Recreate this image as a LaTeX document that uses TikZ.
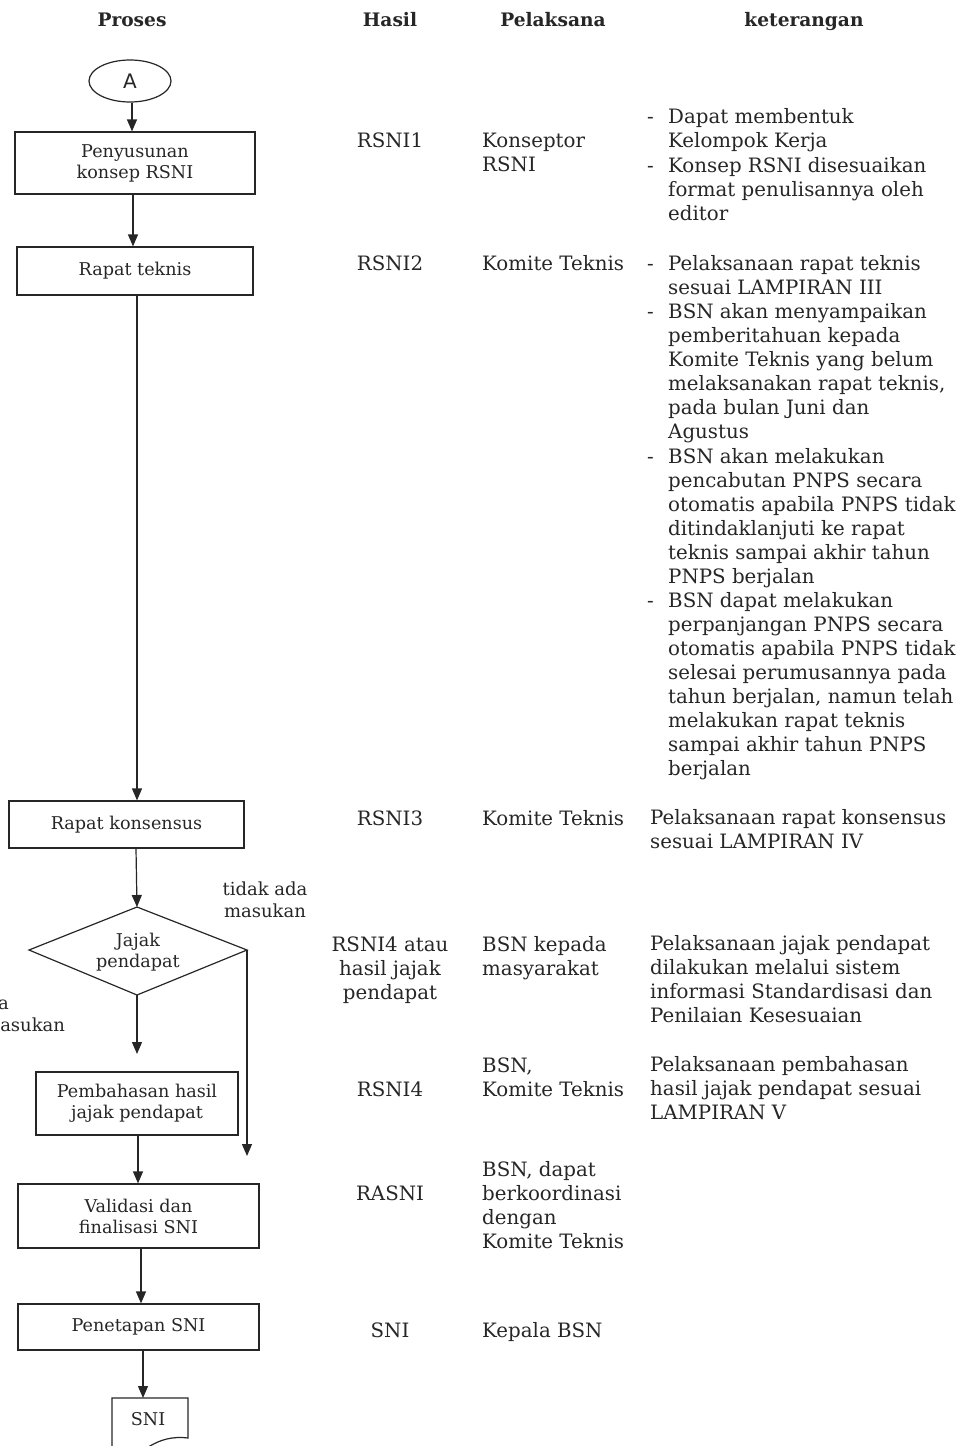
\documentclass[tikz,border=0pt]{standalone}
\usepackage{fontspec}
\setmainfont{DejaVu Serif}
\newfontfamily\sanslbl{DejaVu Sans}
\usetikzlibrary{arrows.meta,calc,shapes.geometric}
\begin{document}
\begin{tikzpicture}[x=1pt,y=-1pt,
  every node/.style={inner sep=0pt, text=black!85},
  box/.style={draw=black!85, line width=1.2pt, align=center, font=\fontsize{17.6}{21}\selectfont},
  ln/.style={draw=black!85, line width=1.2pt},
  arr/.style={ln, -{Triangle[width=10pt,length=12pt]}},
  txt/.style={align=left, anchor=base west, font=\fontsize{19.8}{24.1}\selectfont},
  ctr/.style={align=center, anchor=base, font=\fontsize{19.8}{24.1}\selectfont},
  dsh/.style={anchor=base west, font=\fontsize{19.8}{24.1}\selectfont},
  lbl/.style={font=\fontsize{18}{22}\selectfont},
  hdr/.style={anchor=base, font=\fontsize{18.6}{22}\selectfont\bfseries}]
\useasboundingbox (0,0) rectangle (963,1446);
% headers
\node[hdr] (hP) at (132,26) {Proses};
\node[hdr] (hH) at (390,26) {Hasil};
\node[hdr] (hL) at (553,26) {Pelaksana};
\node[hdr] (hK) at (804,26) {keterangan};
% flow
\node[draw=black!85, line width=1.2pt, ellipse, minimum width=82pt, minimum height=42pt,
      font=\sanslbl\fontsize{20}{24}\selectfont] (A) at (130,81) {A};
\node[box, minimum width=240pt, minimum height=62pt] (b1) at (135,163) {Penyusunan\\konsep RSNI};
\node[box, minimum width=236pt, minimum height=48pt] (b2) at (135,271) {Rapat teknis};
\node[box, minimum width=235pt, minimum height=47pt] (b3) at (126.5,824.5) {Rapat konsensus};
\coordinate (dT) at (137,907);
\coordinate (dL) at (29,950);
\coordinate (dB) at (137,995);
\coordinate (dR) at (247,950);
\draw[ln, line join=miter] (dT) -- (dR) -- (dB) -- (dL) -- cycle;
\node[align=center, font=\fontsize{17.6}{21}\selectfont] (d) at (138,952) {Jajak\\pendapat};
\node[box, minimum width=202pt, minimum height=63pt] (b4) at (137,1103.5) {Pembahasan hasil\\jajak pendapat};
\node[box, minimum width=241pt, minimum height=64pt] (b5) at (138.5,1216) {Validasi dan\\finalisasi SNI};
\node[box, minimum width=241pt, minimum height=46pt] (b6) at (138.5,1327) {Penetapan SNI};
\coordinate (docTL) at (112,1398);
\coordinate (docTR) at (188,1398);
\draw[ln] (112,1460) -- (docTL) -- (docTR) -- (188,1438)
   .. controls (172,1436) and (160,1440) .. (150,1446) .. controls (138,1452) and (125,1456) .. (112,1456);
\node[font=\fontsize{17.6}{21}\selectfont] (sni) at (148,1419) {SNI};
\coordinate (docIn) at (143,1398);
\coordinate (e1) at (137,1054);
\coordinate (e2) at (247,1156);
% connectors
\draw[arr] (A.south -| 132,0) -- (132,0 |- b1.north);
\draw[arr] (133,0 |- b1.south) -- (133,0 |- b2.north);
\draw[arr] (137,0 |- b2.south) -- (137,0 |- b3.north);
\draw[arr] (136,0 |- b3.south) -- (dT);
\draw[arr] (dB) -- (e1);
\draw[arr] (dR) -- (e2);
\draw[arr] (138,0 |- b4.south) -- (138,0 |- b5.north);
\draw[arr] (141,0 |- b5.south) -- (141,0 |- b6.north);
\draw[arr] (143,0 |- b6.south) -- (docIn);
% branch labels
\node[lbl, align=center, anchor=base] (tam) at (265,917) {tidak ada\\masukan};
\node[lbl, anchor=base east] (am1) at (9,1009) {ada};
\node[lbl, anchor=base west] (am2) at (-17,1031) {masukan};
% Hasil
\node[ctr] (r1) at (390,147) {RSNI1};
\node[ctr] (r2) at (390,270) {RSNI2};
\node[ctr] (r3) at (390,825) {RSNI3};
\node[ctr] (r4) at (390,999.2) {RSNI4 atau\\hasil jajak\\pendapat};
\node[ctr] (r5) at (390,1096) {RSNI4};
\node[ctr] (r6) at (390,1200) {RASNI};
\node[ctr] (r7) at (390,1337) {SNI};
% Pelaksana
\node[txt] (p1) at (482,171.1) {Konseptor\\RSNI};
\node[txt] (p2) at (482,270) {Komite Teknis};
\node[txt] (p3) at (482,825) {Komite Teknis};
\node[txt] (p4) at (482,975.1) {BSN kepada\\masyarakat};
\node[txt] (p5) at (482,1096.1) {BSN,\\Komite Teknis};
\node[txt] (p6) at (482,1248.3) {BSN, dapat\\berkoordinasi\\dengan\\Komite Teknis};
\node[txt] (p7) at (482,1337) {Kepala BSN};
% keterangan
\node[dsh] (m1) at (647,123) {-};
\node[txt] (k1) at (668,147.1) {Dapat membentuk\\Kelompok Kerja};
\node[dsh] (m2) at (647,172) {-};
\node[txt] (k2) at (668,220.2) {Konsep RSNI disesuaikan\\format penulisannya oleh\\editor};
\node[dsh] (m3) at (647,270) {-};
\node[txt] (k3) at (668,294.1) {Pelaksanaan rapat teknis\\sesuai LAMPIRAN III};
\node[dsh] (m4) at (647,318) {-};
\node[txt] (k4) at (668,438.5) {BSN akan menyampaikan\\pemberitahuan kepada\\Komite Teknis yang belum\\melaksanakan rapat teknis,\\pada bulan Juni dan\\Agustus};
\node[dsh] (m5) at (647,463) {-};
\node[txt] (k5) at (668,583.5) {BSN akan melakukan\\pencabutan PNPS secara\\otomatis apabila PNPS tidak\\ditindaklanjuti ke rapat\\teknis sampai akhir tahun\\PNPS berjalan};
\node[dsh] (m6) at (647,607) {-};
\node[txt] (k6) at (668,775.7) {BSN dapat melakukan\\perpanjangan PNPS secara\\otomatis apabila PNPS tidak\\selesai perumusannya pada\\tahun berjalan, namun telah\\melakukan rapat teknis\\sampai akhir tahun PNPS\\berjalan};
\node[txt] (k7) at (650,848.1) {Pelaksanaan rapat konsensus\\sesuai LAMPIRAN IV};
\node[txt] (k8) at (650,1022.3) {Pelaksanaan jajak pendapat\\dilakukan melalui sistem\\informasi Standardisasi dan\\Penilaian Kesesuaian};
\node[txt] (k9) at (650,1119.2) {Pelaksanaan pembahasan\\hasil jajak pendapat sesuai\\LAMPIRAN V};
\end{tikzpicture}
\end{document}
